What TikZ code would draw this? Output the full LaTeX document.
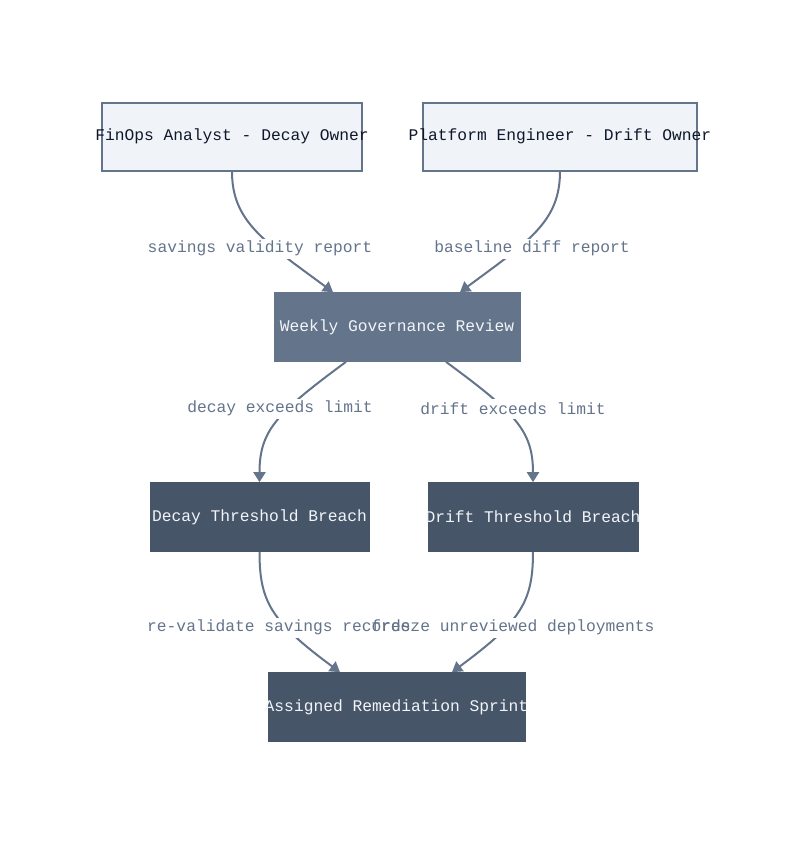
\documentclass[tikz,border=0pt]{standalone}
\usepackage{fontspec}
\setmonofont{Liberation Mono}
\usetikzlibrary{arrows.meta,calc}
\definecolor{edgec}{HTML}{64748B}
\definecolor{lightfill}{HTML}{F0F3F8}
\definecolor{midfill}{HTML}{64748B}
\definecolor{darkfill}{HTML}{475569}
\definecolor{lighttext}{HTML}{0F172A}
\definecolor{whitetext}{HTML}{F1F5F9}
\definecolor{lbltext}{HTML}{64748B}
\tikzset{
  box/.style={rectangle, inner sep=0pt, font=\ttfamily\fontsize{12.2pt}{14pt}\selectfont},
  lightbox/.style={box, fill=lightfill, draw=edgec, line width=1.5pt, text=lighttext},
  midbox/.style={box, fill=midfill, draw=midfill, line width=0.5pt, text=whitetext},
  darkbox/.style={box, fill=darkfill, draw=darkfill, line width=0.5pt, text=whitetext},
  conn/.style={draw=edgec, line width=1.5pt, -{Triangle[length=7.5pt,width=9pt]}},
  lblbg/.style={fill=white, inner xsep=1pt, inner ysep=0pt, minimum height=15pt, font=\ttfamily\fontsize{12.2pt}{14pt}\selectfont},
  lbl/.style={inner sep=0pt, text=lbltext, font=\ttfamily\fontsize{12.2pt}{14pt}\selectfont},
}
\begin{document}
\begin{tikzpicture}[x=0.75pt,y=-0.75pt]
\useasboundingbox (0,0) rectangle (800,844);
\fill[white] (0,0) rectangle (800,844);
% nodes
\node[lightbox, minimum width=195pt, minimum height=51pt] (fin) at (232,136.5) {\makebox[0pt]{FinOps Analyst - Decay Owner}};
\node[lightbox, minimum width=205.5pt, minimum height=51pt] (plat) at (560,136.5) {\makebox[0pt]{Platform Engineer - Drift Owner}};
\node[midbox, minimum width=184.5pt, minimum height=51.75pt] (wk) at (397,327) {\makebox[0pt]{Weekly Governance Review}};
\node[darkbox, minimum width=164.25pt, minimum height=51.75pt] (dec) at (259.5,517) {\makebox[0pt]{Decay Threshold Breach}};
\node[darkbox, minimum width=157.5pt, minimum height=51.75pt] (dri) at (533,517) {\makebox[0pt]{Drift Threshold Breach}};
\node[darkbox, minimum width=192.75pt, minimum height=51.75pt] (asg) at (396.5,707) {\makebox[0pt]{Assigned Remediation Sprint}};
% connectors
\draw[conn] (fin.south) .. controls +(0,50) and +(-69,-51) .. ($(wk.north)+(-64,0)$);
\draw[conn] (plat.south) .. controls +(0,50) and +(69,-51) .. ($(wk.north)+(63,0)$);
\draw[conn] ($(wk.south)+(-51,0)$) .. controls +(-69,51) and +(0,-52) .. (dec.north);
\draw[conn] ($(wk.south)+(49,0)$) .. controls +(69,51) and +(0,-52) .. (dri.north);
\draw[conn] (dec.south) .. controls +(0,50) and +(-69,-51) .. ($(asg.north)+(-56.5,0)$);
\draw[conn] (dri.south) .. controls +(0,50) and +(69,-51) .. ($(asg.north)+(55.5,0)$);
% label backgrounds
\node[lblbg] (b1) at (260,248.5) {\phantom{savings validity report}};
\node[lblbg] (b2) at (532,248.5) {\phantom{baseline diff report}};
\node[lblbg] (b3) at (280,408.5) {\phantom{decay exceeds limit}};
\node[lblbg] (b4) at (513,408.5) {\phantom{drift exceeds limit}};
\node[lblbg] (b5) at (279,627.5) {\phantom{re-validate savings records}};
\node[lblbg] (b6) at (513,627.5) {\phantom{freeze unreviewed deployments}};
% label texts
\node[lbl] (l1) at (b1) {savings validity report};
\node[lbl] (l2) at (b2) {baseline diff report};
\node[lbl] (l3) at (b3) {decay exceeds limit};
\node[lbl] (l4) at (b4) {drift exceeds limit};
\node[lbl] (l5) at (b5) {re-validate savings records};
\node[lbl] (l6) at (b6) {freeze unreviewed deployments};
\end{tikzpicture}
\end{document}
